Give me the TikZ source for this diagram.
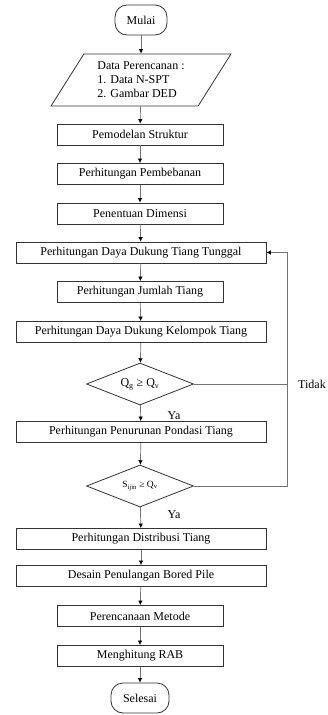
\documentclass[tikz,border=0pt]{standalone}
\usepackage{fontspec}
\setmainfont{Liberation Serif}
\usetikzlibrary{arrows.meta,shapes.geometric}
\tikzset{
  proses/.style={draw=black!80, line width=0.8pt, minimum height=21pt, inner sep=2pt, font=\fontsize{12}{14}\selectfont},
  sempit/.style={proses, minimum width=166pt},
  lebar/.style={proses, minimum width=250pt},
  terminal/.style={draw=black!80, line width=0.8pt, rounded corners=12pt, minimum height=30pt, minimum width=52pt, inner sep=3pt, font=\fontsize{12}{14}\selectfont},
  masukan/.style={draw=black!80, line width=0.8pt, trapezium, trapezium left angle=56, trapezium right angle=124, trapezium stretches=true, minimum width=180pt, minimum height=52pt, align=left, inner sep=1pt, font=\fontsize{12}{14}\selectfont},
  keputusan/.style={draw=black!80, line width=0.8pt, diamond, aspect=2.5, minimum width=107pt, minimum height=42pt, inner sep=0pt, font=\fontsize{12}{14}\selectfont},
  label/.style={font=\fontsize{12}{14}\selectfont, inner sep=1pt},
  alur/.style={draw=black!55, line width=0.7pt, -{Latex[length=4.5pt,width=4.5pt,color=black]}}
}
\begin{document}
\begin{tikzpicture}[x=1pt, y=-1pt]
      \useasboundingbox (0,0) rectangle (327,715);
      \draw
        (141,20) node[terminal] (mulai){Mulai}
        (141,80) node[masukan] (data){Data Perencanan :\\1. Data N-SPT\\2. Gambar DED}
        (140,134.5) node[sempit] (model){Pemodelan Struktur}
        (140,174) node[sempit] (beban){Perhitungan Pembebanan}
        (140,213.5) node[sempit] (dimensi){Penentuan Dimensi}
        (141,252.5) node[lebar] (tunggal){Perhitungan Daya Dukung Tiang Tunggal}
        (140,292) node[sempit] (jumlah){Perhitungan Jumlah Tiang}
        (141,332) node[lebar] (kelompok){Perhitungan Daya Dukung Kelompok Tiang}
        (140,384) node[keputusan] (cekq){Q\textsubscript{g} ≥ Q\textsubscript{v}}
        (141,432) node[lebar] (turun){Perhitungan Penurunan Pondasi Tiang}
        (140,486) node[keputusan, font=\fontsize{9.5}{11}\selectfont] (ceks){S\textsubscript{ijin} ≥ Q\textsubscript{v}}
        (141,539) node[lebar] (distribusi){Perhitungan Distribusi Tiang}
        (141,576) node[lebar] (desain){Desain Penulangan Bored Pile}
        (140,616) node[sempit] (metode){Perencanaan Metode}
        (140,656) node[sempit] (rab){Menghitung RAB}
        (140,698) node[terminal, minimum width=58pt] (selesai){Selesai};
      \coordinate (balik1) at (287,384);
      \coordinate (balik2) at (287,486);
      \coordinate (atas) at (287,252.5);
      \node[label] (ya1) at (174,416) {Ya};
      \node[label] (ya2) at (174,515) {Ya};
      \node[label] (tidak) at (312,384) {Tidak};
      \begin{scope}[alur]
        \draw (mulai) to (data);
        \draw (data) to (model);
        \draw (model) to (beban);
        \draw (beban) to (dimensi);
        \draw (dimensi) to (tunggal);
        \draw (tunggal) to (jumlah);
        \draw (jumlah) to (kelompok);
        \draw (kelompok) to (cekq);
        \draw (cekq) to (turun);
        \draw (turun) to (ceks);
        \draw (ceks) to (distribusi);
        \draw (distribusi) to (desain);
        \draw (desain) to (metode);
        \draw (metode) to (rab);
        \draw (rab) to (selesai);
        \draw (ceks.east) -- (balik2) -- (atas) -- (tunggal.east);
      \end{scope}
      \draw[draw=black!55, line width=0.7pt] (cekq.east) -- (balik1);
    \end{tikzpicture}
\end{document}
